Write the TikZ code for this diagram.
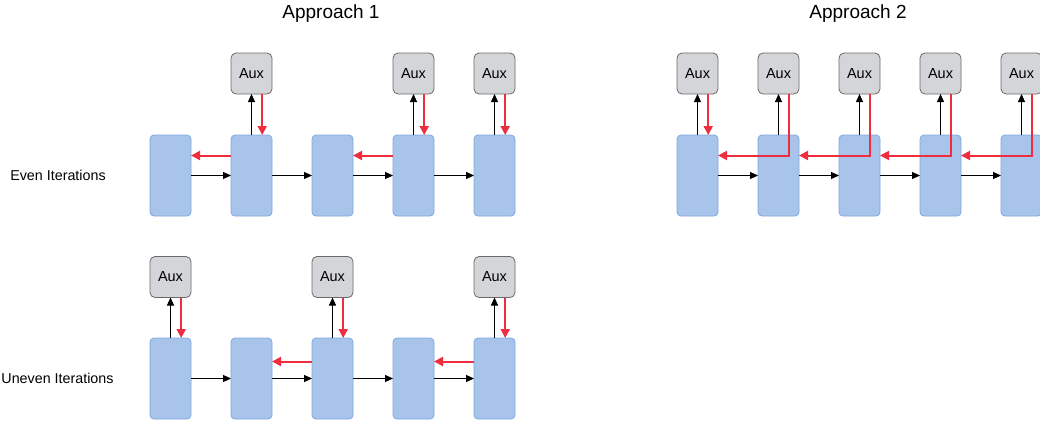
\documentclass[tikz,border=0pt]{standalone}
\usepackage{fontspec}
\setmainfont{Liberation Sans}
\usetikzlibrary{arrows.meta}
\definecolor{bfill}{HTML}{A9C4EB}
\definecolor{bdraw}{HTML}{7EA6E0}
\definecolor{afill}{HTML}{D4D5D9}
\definecolor{adraw}{HTML}{6A6A6A}
\definecolor{redc}{HTML}{EE2E3F}
\tikzset{
  blk/.style={rectangle, rounded corners=4pt, fill=bfill, draw=bdraw, line width=0.8pt,
    minimum width=41pt, minimum height=81pt, inner sep=0pt, outer sep=0pt, anchor=north west},
  auxbox/.style={rectangle, rounded corners=5pt, fill=afill, draw=adraw, line width=0.8pt,
    minimum width=41pt, minimum height=41pt, inner sep=0pt, outer sep=0pt, anchor=north west,
    font=\fontsize{14.5}{16}\selectfont},
  fwd/.style={draw=black, line width=0.9pt, -{Triangle[length=8pt,width=7pt]}},
  back/.style={draw=redc, line width=2pt, -{Triangle[length=9pt,width=9pt]}},
  ttl/.style={font=\fontsize{19}{21}\selectfont, inner sep=0pt},
  lbl/.style={font=\fontsize{14.3}{16}\selectfont, inner sep=0pt},
}
\begin{document}
\begin{tikzpicture}[x=1pt,y=-1pt]
\useasboundingbox (0,0) rectangle (1040,421);
\clip (0,0) rectangle (1040,421);
% titles and labels
\node[ttl] (t1) at (331,14) {Approach 1};
\node[ttl] (t2) at (858,14) {Approach 2};
\node[lbl] (le) at (58,175) {Even Iterations};
\node[lbl] (lu) at (57.5,378) {Uneven Iterations};
% boxes
\foreach \i in {1,...,5} {
  \node[blk] (e\i) at ({150+81*(\i-1)},135) {};
  \node[blk] (u\i) at ({150+81*(\i-1)},338) {};
  \node[blk] (p\i) at ({677+81*(\i-1)},135) {};
}
\foreach \i in {2,4,5} {
  \node[auxbox] (ea\i) at ({150+81*(\i-1)},53) {Aux};
}
\foreach \i in {1,3,5} {
  \node[auxbox] (ua\i) at ({150+81*(\i-1)},256.5) {Aux};
}
\foreach \i in {1,...,5} {
  \node[auxbox] (pa\i) at ({677+81*(\i-1)},53) {Aux};
}
% forward arrows
\foreach \i/\j in {1/2,2/3,3/4,4/5} {
  \draw[fwd] (e\i.east) -- (e\j.west);
  \draw[fwd] (u\i.east) -- (u\j.west);
  \draw[fwd] (p\i.east) -- (p\j.west);
}
% up arrows
\foreach \i in {2,4,5} {
  \draw[fwd] (e\i.north) -- (ea\i.south);
  \draw[back] ([xshift=10.7pt]ea\i.south) -- ([xshift=10.7pt]e\i.north);
}
\foreach \i in {1,3,5} {
  \draw[fwd] (u\i.north) -- (ua\i.south);
  \draw[back] ([xshift=10.7pt]ua\i.south) -- ([xshift=10.7pt]u\i.north);
}
\foreach \i in {1,...,5} {
  \draw[fwd] (p\i.north) -- (pa\i.south);
}
% red backward arrows
\draw[back] ([yshift=20pt]e2.west) -- ([yshift=20pt]e1.east);
\draw[back] ([yshift=20pt]e4.west) -- ([yshift=20pt]e3.east);
\draw[back] ([yshift=17pt]u3.west) -- ([yshift=17pt]u2.east);
\draw[back] ([yshift=17pt]u5.west) -- ([yshift=17pt]u4.east);
\draw[back] ([xshift=10.7pt]pa1.south) -- ([xshift=10.7pt]p1.north);
\foreach \i/\j in {2/1,3/2,4/3,5/4} {
  \draw[back, rounded corners=0pt] ([xshift=10.7pt]pa\i.south) |- ([yshift=20pt]p\j.east);
}
\end{tikzpicture}
\end{document}
